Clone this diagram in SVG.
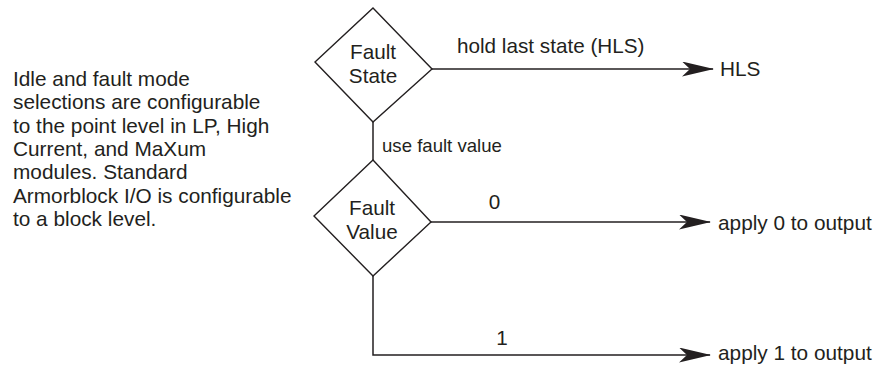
<svg xmlns="http://www.w3.org/2000/svg" width="888" height="366" viewBox="0 0 888 366">
  <style>
    text { font-family: "Liberation Sans", Arial, sans-serif; fill: #231f20; }
    .note { font-size: 20.8px; }
    .lbl { font-size: 20.7px; }
    .small { font-size: 18.6px; }
    .out { font-size: 20.8px; }
    .shape { fill: #ffffff; stroke: #231f20; stroke-width: 1.4; }
    .conn { fill: none; stroke: #231f20; stroke-width: 1.5; }
  </style>
  <defs>
    <marker id="arrow" markerUnits="userSpaceOnUse" viewBox="0 0 32 15" markerWidth="32" markerHeight="15" refX="31" refY="7.5" orient="auto">
      <path d="M0,0 L32,7.5 L0,15 L8,7.5 Z" fill="#231f20"/>
    </marker>
  </defs>
  <rect width="888" height="366" fill="#ffffff"/>

  <g id="note">
    <text class="note" x="13" y="86">Idle and fault mode</text>
    <text class="note" x="13" y="109.3">selections are configurable</text>
    <text class="note" x="13" y="132.6">to the point level in LP, High</text>
    <text class="note" x="13" y="155.9">Current, and MaXum</text>
    <text class="note" x="13" y="179.2">modules. Standard</text>
    <text class="note" x="13" y="202.5">Armorblock I/O is configurable</text>
    <text class="note" x="13" y="225.8">to a block level.</text>
  </g>

  <g id="connectors">
    <path class="conn" d="M432,69 H713" marker-end="url(#arrow)"/>
    <path class="conn" d="M373,122 V160"/>
    <path class="conn" d="M431,222 H710" marker-end="url(#arrow)"/>
    <path class="conn" d="M373,276 V355 H710" marker-end="url(#arrow)"/>
    <text class="lbl" x="457" y="52.5">hold last state (HLS)</text>
    <text class="small" x="382" y="151.5">use fault value</text>
    <text class="lbl" x="494.5" y="208.5" text-anchor="middle">0</text>
    <text class="lbl" x="502" y="345" text-anchor="middle">1</text>
  </g>

  <g id="fault-state">
    <polygon class="shape" points="373,8 432,69 373,122 315,62"/>
    <text class="lbl" x="373" y="59" text-anchor="middle">Fault</text>
    <text class="lbl" x="373" y="83" text-anchor="middle">State</text>
  </g>

  <g id="fault-value">
    <polygon class="shape" points="373,160 431,222 373,276 314,216"/>
    <text class="lbl" x="372" y="215" text-anchor="middle">Fault</text>
    <text class="lbl" x="372" y="239.3" text-anchor="middle">Value</text>
  </g>

  <g id="hls">
    <text class="out" x="720" y="76">HLS</text>
  </g>
  <g id="apply0">
    <text class="out" x="718" y="230">apply 0 to output</text>
  </g>
  <g id="apply1">
    <text class="out" x="718" y="360">apply 1 to output</text>
  </g>
</svg>
